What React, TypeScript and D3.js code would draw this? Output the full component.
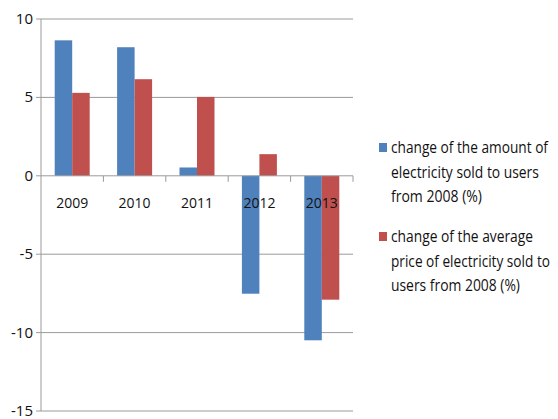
import React, { useLayoutEffect, useRef } from "react";
import * as d3 from "d3";

const categories = ["2009", "2010", "2011", "2012", "2013"];
const amountChange = [8.64, 8.2, 0.53, -7.52, -10.49];
const priceChange = [5.29, 6.16, 5.03, 1.38, -7.9];
const yTicks = [10, 5, 0, -5, -10, -15];
const seriesNames = [
  ["change of the amount of", "electricity sold to users", "from 2008 (%)"],
  ["change of the average", "price of electricity sold to", "users from 2008 (%)"],
];
const legendLineWidths = [
  [157, 148, 91],
  [142, 159, 129],
];
const colors = ["#4F81BD", "#C0504D"];

const W = 558, H = 419;
const left = 41, right = 353, top = 19, bottom = 411;
const FONT = "'Open Sans', 'Liberation Sans', sans-serif";

export default function App() {
  const legendRef = useRef<SVGGElement | null>(null);
  const x = d3.scaleBand().domain(categories).range([left, right]);
  const y = d3.scaleLinear().domain([-15, 10]).range([bottom, top]);
  const barW = 17.5;
  const series = [amountChange, priceChange];

  useLayoutEffect(() => {
    if (!legendRef.current) return;
    d3.select(legendRef.current)
      .selectAll<SVGTextElement, unknown>("text")
      .each(function () {
        const target = +(this.getAttribute("data-w") || 0);
        const tx = +(this.getAttribute("data-x") || 0);
        const ty = +(this.getAttribute("data-y") || 0);
        const natural = this.getComputedTextLength();
        const s = natural > 0 ? target / natural : 1;
        this.setAttribute("transform", `translate(${tx},${ty}) scale(${s},1)`);
      });
  }, []);

  return (
    <svg width={W} height={H} style={{ position: "absolute", left: 0, top: 0 }}>
      <rect width={W} height={H} fill="#fff" />
      {yTicks.map((t) => (
        <g key={t}>
          {t !== 0 && (
            <line x1={left} x2={right} y1={y(t)} y2={y(t)} stroke="#9a9a9a" strokeWidth={1} />
          )}
          <line x1={left - 5} x2={left} y1={y(t)} y2={y(t)} stroke="#9a9a9a" />
          <text x={left - 8} y={y(t) + 5} textAnchor="end" fontSize={15} fontFamily={FONT} fill="#111">
            {t}
          </text>
        </g>
      ))}
      {series.map((vals, si) =>
        vals.map((v, i) => {
          const cx = x(categories[i])! + x.bandwidth() / 2;
          const x0 = cx - barW + si * barW;
          return (
            <rect
              key={si + "-" + i}
              x={x0}
              y={Math.min(y(v), y(0))}
              width={barW}
              height={Math.abs(y(v) - y(0))}
              fill={colors[si]}
            />
          );
        })
      )}
      <line x1={left} x2={left} y1={top} y2={bottom} stroke="#9a9a9a" />
      <line x1={left} x2={right} y1={y(0)} y2={y(0)} stroke="#9a9a9a" />
      {categories.map((c) => (
        <line key={c} x1={x(c)! + x.bandwidth()} x2={x(c)! + x.bandwidth()} y1={y(0)} y2={y(0) + 6} stroke="#9a9a9a" />
      ))}
      {categories.map((c) => (
        <text key={c} x={x(c)! + x.bandwidth() / 2} y={208} textAnchor="middle" fontSize={15} fontFamily={FONT} fill="#111"
          textLength={32} lengthAdjust="spacingAndGlyphs">
          {c}
        </text>
      ))}
      <g ref={legendRef}>
        {seriesNames.map((lines, si) => {
          const y0 = 153 + si * 89;
          return (
            <g key={si}>
              <rect x={379} y={y0 - 10} width={8} height={9} fill={colors[si]} />
              {lines.map((l, li) => (
                <text key={li} data-w={legendLineWidths[si][li]} data-x={391} data-y={y0 + li * 24.5}
                  transform={`translate(391,${y0 + li * 24.5}) scale(0.85,1)`}
                  fontSize={15.5} fontFamily={FONT} fill="#111">
                  {l}
                </text>
              ))}
            </g>
          );
        })}
      </g>
    </svg>
  );
}
